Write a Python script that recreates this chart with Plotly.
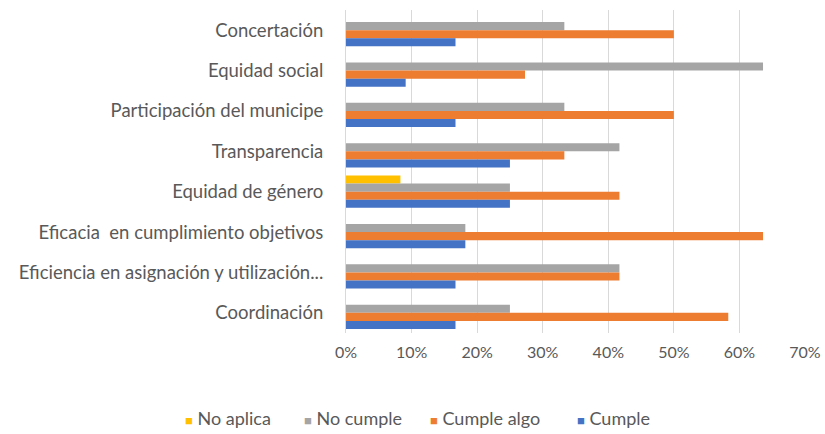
import plotly.graph_objects as go

categories = [
    "Concertación",
    "Equidad social",
    "Participación del municipe",
    "Transparencia",
    "Equidad de género",
    "Eficacia  en cumplimiento objetivos",
    "Eficiencia en asignación y utilización...",
    "Coordinación",
]
no_aplica = [0, 0, 0, 0, 0.083, 0, 0, 0]
no_cumple = [0.333, 0.636, 0.333, 0.417, 0.25, 0.182, 0.417, 0.25]
cumple_algo = [0.50, 0.273, 0.50, 0.333, 0.417, 0.636, 0.417, 0.583]
cumple = [0.167, 0.091, 0.167, 0.25, 0.25, 0.182, 0.167, 0.167]

series = [
    ("No aplica", no_aplica, "#FFC000"),
    ("No cumple", no_cumple, "#A5A5A5"),
    ("Cumple algo", cumple_algo, "#ED7D31"),
    ("Cumple", cumple, "#4472C4"),
]

fig = go.Figure()
for name, vals, color in series:
    fig.add_trace(go.Bar(
        y=categories, x=vals, name=name, orientation="h",
        marker=dict(color=color, line=dict(width=0)),
        showlegend=False,
    ))

W, H = 825, 434
L, R, T, B = 346, 20, 10, 101
font_fam = "Lato, 'Open Sans', sans-serif"

# legend drawn as text entries below the plot (pixel anchors from the left edge)
legend_x_px = [183, 302, 428, 575]
legend_y_px = 418
pw = W - L - R
ph = H - T - B
for (name, _, color), xp in zip(series, legend_x_px):
    fig.add_annotation(
        xref="paper", yref="paper",
        x=(xp - L) / pw, y=(H - B - legend_y_px) / ph,
        xanchor="left", yanchor="middle", showarrow=False,
        text=f"<span style='color:{color};font-size:13px'>■</span> {name}",
        font=dict(family=font_fam, size=18, color="#595959"),
    )

fig.update_layout(
    width=W, height=H,
    margin=dict(l=L, r=R, t=T, b=B, autoexpand=False),
    barmode="group", bargap=0.2, bargroupgap=0,
    plot_bgcolor="white", paper_bgcolor="white",
    font=dict(family=font_fam, size=18, color="#595959"),
    showlegend=False,
    xaxis=dict(range=[0, 0.7], dtick=0.1, tickformat=".0%",
               showgrid=True, gridcolor="#D9D9D9", gridwidth=1,
               zeroline=False, showline=False, ticks="",
               ticklabelstandoff=8,
               tickfont=dict(size=16, color="#595959")),
    yaxis=dict(autorange="reversed", showline=True, linecolor="#D9D9D9",
               ticks="", ticklabelstandoff=18, automargin=False,
               tickfont=dict(size=18.5, color="#595959")),
)

fig.write_html("out.html", config={"displayModeBar": False})
with open("out.html", encoding="utf-8") as f:
    html = f.read()
html = html.replace("<head>", "<head><style>html,body{margin:0;padding:0;overflow:hidden}</style>", 1)
with open("out.html", "w", encoding="utf-8") as f:
    f.write(html)
